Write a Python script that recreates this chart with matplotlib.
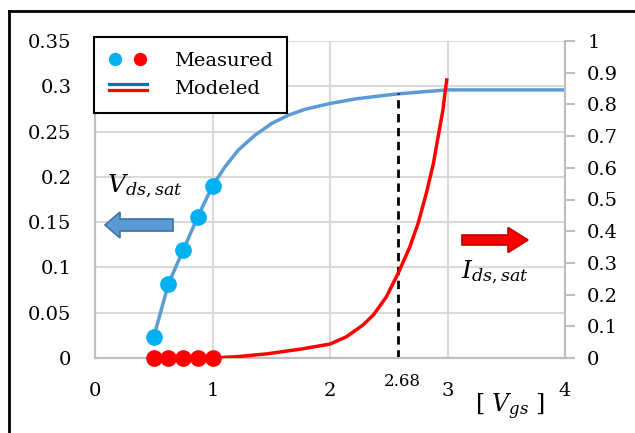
import matplotlib
matplotlib.use('Agg')
import matplotlib.pyplot as plt
from matplotlib.lines import Line2D
from matplotlib.patches import FancyArrow
from matplotlib.legend_handler import HandlerBase, HandlerTuple

plt.rcParams['font.family'] = ['DejaVu Serif']
plt.rcParams['mathtext.fontset'] = 'dejavuserif'

# measured points
vgs_meas = [0.5, 0.625, 0.75, 0.875, 1.0]
vds_meas = [0.023, 0.082, 0.119, 0.156, 0.19]
ids_meas = [0, 0, 0, 0, 0]

# modeled curves
vgs_model_v = [0.5, 0.625, 0.75, 0.875, 1.0, 1.106, 1.22, 1.362, 1.504, 1.645,
               1.787, 2.0, 2.213, 2.468, 2.567, 2.8, 3.0, 4.0]
vds_model = [0.023, 0.082, 0.119, 0.156, 0.19, 0.211, 0.2297, 0.246, 0.259, 0.268,
             0.2746, 0.281, 0.286, 0.290, 0.2915, 0.294, 0.296, 0.296]
vgs_model_i = [1.0, 1.2, 1.46, 1.75, 2.0, 2.14, 2.28, 2.37, 2.48, 2.58, 2.68,
               2.75, 2.82, 2.88, 2.92, 2.96, 2.993]
ids_model = [0, 0.004, 0.013, 0.028, 0.044, 0.067, 0.104, 0.136, 0.193, 0.267, 0.351,
             0.425, 0.52, 0.614, 0.698, 0.78, 0.877]

vgs_mark = 2.58
vgs_mark_label = '2.68'

left_ticks = [0, 0.05, 0.1, 0.15, 0.2, 0.25, 0.3, 0.35]
left_labels = ['0', '0.05', '0.1', '0.15', '0.2', '0.25', '0.3', '0.35']
right_ticks = [0, 0.1, 0.2, 0.3, 0.4, 0.5, 0.6, 0.7, 0.8, 0.9, 1]
right_labels = ['0', '0.1', '0.2', '0.3', '0.4', '0.5', '0.6', '0.7', '0.8', '0.9', '1']
x_ticks = [0, 1, 2, 3, 4]

blue_line = '#5B9BD5'
blue_dot = '#00B0F0'
red = '#FF0000'
grid_c = '#D9D9D9'
axis_c = '#BFBFBF'

W, H = 635, 433
fig = plt.figure(figsize=(W / 100, H / 100), dpi=100)
ax = fig.add_axes([95 / W, 1 - 358 / H, 470 / W, 317 / H])
ax2 = ax.twinx()

ax.set_xlim(0, 4)
ax.set_ylim(0, 0.35)
ax2.set_ylim(0, 1)

ax.set_xticks(x_ticks)
ax.set_xticklabels([str(t) for t in x_ticks])
ax.set_yticks(left_ticks)
ax.set_yticklabels(left_labels)
ax2.set_yticks(right_ticks)
ax2.set_yticklabels(right_labels)

ax.tick_params(axis='x', length=0, pad=17, labelsize=14)
ax.tick_params(axis='y', length=0, pad=17, labelsize=14)
ax2.tick_params(axis='y', length=7, width=1.5, color=axis_c, pad=9, labelsize=14)

ax.grid(True, color=grid_c, lw=1.5)
ax.set_axisbelow(True)
for a in (ax, ax2):
    a.spines['top'].set_visible(False)
    for s in ('left', 'bottom', 'right'):
        a.spines[s].set_color(axis_c)
        a.spines[s].set_linewidth(1.5)

# left axis: Vds,sat
ax.plot(vgs_model_v, vds_model, color=blue_line, lw=2.5, zorder=3)
ax.plot(vgs_meas, vds_meas, 'o', color=blue_dot, ms=11, zorder=4)
ax.plot([vgs_mark, vgs_mark], [0, 0.293], color='black', lw=2, ls=(0, (3, 2)), zorder=3)

# right axis: Ids,sat
ax2.plot(vgs_model_i, ids_model, color=red, lw=2.5, zorder=3)
ax2.plot(vgs_meas, ids_meas, 'o', color=red, ms=11, zorder=4, clip_on=False)


class HandlerDoubleLine(HandlerBase):
    # blue line stacked over a red line
    def create_artists(self, legend, orig_handle, xdescent, ydescent,
                       width, height, fontsize, trans):
        l1 = Line2D([-xdescent, width - xdescent], [0.72 * height] * 2,
                    color='#0070C0', lw=2.3, transform=trans)
        l2 = Line2D([-xdescent, width - xdescent], [0.28 * height] * 2,
                    color=red, lw=2.3, transform=trans)
        return [l1, l2]


dot_b = Line2D([], [], ls='none', marker='o', color=blue_dot, ms=8.6)
dot_r = Line2D([], [], ls='none', marker='o', color=red, ms=8.6)
leg = ax2.legend([(dot_b, dot_r), 'model'], ['Measured', 'Modeled'],
                 handler_map={tuple: HandlerTuple(ndivide=None, pad=0.62),
                              str: HandlerDoubleLine()},
                 loc='upper left', bbox_to_anchor=(94 / W, 1 - 37 / H),
                 bbox_transform=fig.transFigure, borderaxespad=0,
                 fancybox=False, framealpha=1, edgecolor='black',
                 fontsize=14, handlelength=1.95, handletextpad=1.4,
                 borderpad=0.75, labelspacing=0.55)
leg.get_frame().set_linewidth(1.5)

# arrows and labels
fig.add_artist(FancyArrow(173 / W, 1 - 225 / H, -68 / W, 0, width=12 / H,
                          head_width=26 / H, head_length=15 / W,
                          length_includes_head=True, transform=fig.transFigure,
                          facecolor=blue_line, edgecolor='#41719C', lw=1.2))
fig.add_artist(FancyArrow(462 / W, 1 - 240 / H, 66 / W, 0, width=10 / H,
                          head_width=25 / H, head_length=20 / W,
                          length_includes_head=True, transform=fig.transFigure,
                          facecolor=red, edgecolor='#C00000', lw=1.2))

fig.text(107 / W, 1 - 186 / H, r'$V_{ds,sat}$', fontsize=18, va='center')
fig.text(461 / W, 1 - 272 / H, r'$I_{ds,sat}$', fontsize=18, va='center')
fig.text(402 / W, 1 - 382 / H, vgs_mark_label, fontsize=12, ha='center', va='center')
fig.text(510 / W, 1 - 407 / H, r'$[\ V_{gs}\ ]$', fontsize=17, ha='center', va='center')

# outer frame (only left and top visible)
fig.add_artist(Line2D([9 / W, 9 / W], [0, 1 - 11 / H], color='black', lw=2))
fig.add_artist(Line2D([9 / W, 1], [1 - 11 / H, 1 - 11 / H], color='black', lw=2))

fig.savefig('out.png', dpi=100)
